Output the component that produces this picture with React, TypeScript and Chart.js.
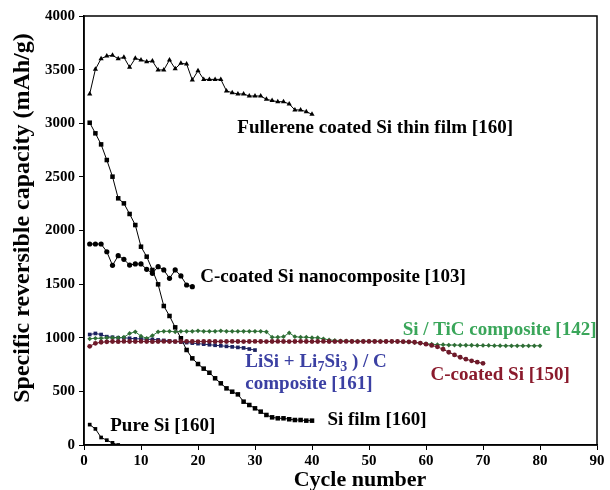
import React, { useEffect, useRef } from "react";
import { Chart, registerables } from "chart.js";

Chart.register(...registerables);

const FONT = "'Liberation Serif', 'Times New Roman', serif";

// Cycle number axis ticks / capacity axis ticks
const xTicks = [0, 10, 20, 30, 40, 50, 60, 70, 80, 90];
const yTicks = [0, 500, 1000, 1500, 2000, 2500, 3000, 3500, 4000];

// Series values (mAh/g), one value per cycle starting at cycle 1
const fullereneSi = [
  3273, 3503, 3602, 3627, 3633, 3602, 3615, 3522, 3605, 3590,
  3574, 3580, 3497, 3497, 3590, 3509, 3559, 3552, 3403, 3490,
  3409, 3409, 3409, 3409, 3301, 3285, 3273, 3273, 3254, 3254,
  3254, 3223, 3211, 3201, 3201, 3180, 3124, 3124, 3108, 3083,
];

const siFilm = [
  3005, 2906, 2803, 2657, 2502, 2300, 2253, 2154, 2051, 1849,
  1756, 1632, 1498, 1296, 1203, 1097, 995, 886, 808, 755,
  712, 674, 622, 575, 528, 497, 472, 404, 373, 342,
  311, 280, 258, 249, 249, 240, 233, 233, 227, 227,
];

const cCoatedNano = [
  1874, 1874, 1874, 1802, 1675, 1765, 1731, 1678, 1688, 1688,
  1638, 1601, 1663, 1632, 1554, 1632, 1576, 1492, 1476,
];

const pureSi = [190, 150, 70, 45, 20, 0];

const siTiC = [
  990, 995, 995, 1000, 1000, 1000, 1005, 1040, 1055, 1015,
  995, 1020, 1055, 1060, 1060, 1055, 1060, 1060, 1060, 1065,
  1060, 1060, 1060, 1065, 1060, 1060, 1060, 1060, 1060, 1060,
  1060, 1055, 1005, 1005, 1010, 1045, 1010, 1005, 1005, 1000,
  1000, 990, 980, 975, 970, 970, 968, 968, 968, 968,
  968, 968, 966, 965, 965, 962, 960, 955, 950, 945,
  940, 935, 935, 932, 932, 930, 930, 930, 928, 928,
  928, 926, 926, 925, 925, 925, 925, 925, 925, 925,
];

const cCoatedSi = [
  920, 948, 958, 962, 965, 963, 966, 965, 964, 966,
  965, 963, 965, 966, 965, 964, 965, 966, 965, 964,
  965, 966, 965, 964, 965, 966, 965, 964, 965, 966,
  965, 964, 965, 966, 965, 964, 965, 966, 965, 964,
  965, 966, 965, 964, 965, 966, 965, 964, 965, 966,
  965, 964, 965, 966, 965, 963, 962, 958, 950, 940,
  928, 915, 893, 865, 840, 818, 800, 785, 772, 762,
];

const liSiComposite = [
  1030, 1040, 1030, 1010, 1005, 1000, 1000, 995, 990, 990,
  985, 985, 980, 975, 970, 965, 960, 955, 950, 945,
  940, 935, 930, 925, 920, 915, 910, 905, 895, 885,
];

type Part = { t: string; sub?: boolean };
type Label = { parts: Part[]; cycle: number; cap: number; color: string };

const LABELS: Label[] = [
  { parts: [{ t: "Fullerene coated Si thin film [160]" }], cycle: 26.9, cap: 2956, color: "#000000" },
  { parts: [{ t: "C-coated Si nanocomposite [103]" }], cycle: 20.4, cap: 1566, color: "#000000" },
  { parts: [{ t: "Si / TiC composite [142]" }], cycle: 55.9, cap: 1072, color: "#3aa65a" },
  {
    parts: [{ t: "LiSi + Li" }, { t: "7", sub: true }, { t: "Si" }, { t: "3", sub: true }, { t: " ) / C" }],
    cycle: 28.3, cap: 774, color: "#3b40a3",
  },
  { parts: [{ t: "composite [161]" }], cycle: 28.3, cap: 569, color: "#3b40a3" },
  { parts: [{ t: "C-coated Si [150]" }], cycle: 60.8, cap: 653, color: "#8a1a2c" },
  { parts: [{ t: "Si film [160]" }], cycle: 42.7, cap: 233, color: "#000000" },
  { parts: [{ t: "Pure Si [160]" }], cycle: 4.6, cap: 177, color: "#000000" },
];

const toPoints = (vals: number[]) => vals.map((v, i) => ({ x: i + 1, y: v }));

const annotPlugin = {
  id: "annot",
  afterDatasetsDraw(chart: any) {
    const { ctx, chartArea, scales } = chart;
    ctx.save();
    ctx.strokeStyle = "#000";
    ctx.lineWidth = 1.5;
    ctx.strokeRect(chartArea.left, chartArea.top, chartArea.right - chartArea.left, chartArea.bottom - chartArea.top);

    ctx.textBaseline = "middle";
    ctx.textAlign = "left";
    for (const lab of LABELS) {
      let x = scales.x.getPixelForValue(lab.cycle);
      const y = scales.y.getPixelForValue(lab.cap);
      ctx.fillStyle = lab.color;
      for (const p of lab.parts) {
        ctx.font = `bold ${p.sub ? 14 : 19}px ${FONT}`;
        ctx.fillText(p.t, x, y + (p.sub ? 5 : 0));
        x += ctx.measureText(p.t).width;
      }
    }

    // axis titles
    ctx.fillStyle = "#000";
    ctx.textAlign = "center";
    ctx.font = `bold 22px ${FONT}`;
    ctx.fillText("Cycle number", 360, 480);
    ctx.translate(23, 218);
    ctx.rotate(-Math.PI / 2);
    ctx.font = `bold 24px ${FONT}`;
    ctx.fillText("Specific reversible capacity (mAh/g)", 0, 0);
    ctx.restore();
  },
};

export default function App() {
  const ref = useRef<HTMLCanvasElement | null>(null);
  useEffect(() => {
    if (!ref.current) return;
    const common = { borderWidth: 1, showLine: true, fill: false, tension: 0 };
    const chart = new Chart(ref.current, {
      type: "scatter",
      data: {
        datasets: [
          { ...common, label: "C-coated Si [150]", data: toPoints(cCoatedSi), borderColor: "#6e1a2a", backgroundColor: "#6e1a2a", pointStyle: "circle", pointRadius: 2.4, pointBorderWidth: 0 },
          { ...common, label: "Si / TiC composite [142]", data: toPoints(siTiC), borderColor: "#2f7d3d", backgroundColor: "#2f6d35", pointStyle: "rectRot", pointRadius: 2.4, pointBorderWidth: 0 },
          { ...common, label: "LiSi + Li7Si3 / C composite [161]", data: toPoints(liSiComposite), borderColor: "#1c2260", backgroundColor: "#1c2260", pointStyle: "rect", pointRadius: 2.6, pointBorderWidth: 0 },
          { ...common, label: "Fullerene coated Si thin film [160]", data: toPoints(fullereneSi), borderColor: "#000", backgroundColor: "#000", pointStyle: "triangle", pointRadius: 3, pointBorderWidth: 0 },
          { ...common, label: "Si film [160]", data: toPoints(siFilm), borderColor: "#000", backgroundColor: "#000", pointStyle: "rect", pointRadius: 3.2, pointBorderWidth: 0 },
          { ...common, label: "C-coated Si nanocomposite [103]", data: toPoints(cCoatedNano), borderColor: "#000", backgroundColor: "#000", pointStyle: "circle", pointRadius: 2.6, pointBorderWidth: 0 },
          { ...common, label: "Pure Si [160]", data: toPoints(pureSi), borderColor: "#000", backgroundColor: "#000", pointStyle: "rect", pointRadius: 2.6, pointBorderWidth: 0 },
        ],
      },
      options: {
        animation: false,
        responsive: false,
        layout: { padding: { top: 16, right: 13, left: 0, bottom: 0 } },
        plugins: { legend: { display: false }, tooltip: { enabled: false } },
        scales: {
          x: {
            type: "linear",
            min: 0,
            max: 90,
            afterFit: (s: any) => { s.height = 45; },
            afterBuildTicks: (s: any) => { s.ticks = xTicks.map((v) => ({ value: v })); },
            ticks: { color: "#000", font: { family: FONT, size: 15, weight: "bold" }, padding: 2, maxRotation: 0, callback: (v: any) => String(v) },
            grid: { display: true, drawOnChartArea: false, drawTicks: true, tickLength: 5, color: "#000" },
            border: { display: true, color: "#000", width: 1.5 },
          },
          y: {
            type: "linear",
            min: 0,
            max: 4000,
            afterFit: (s: any) => { s.width = 84; },
            afterBuildTicks: (s: any) => { s.ticks = yTicks.map((v) => ({ value: v })); },
            ticks: { color: "#000", font: { family: FONT, size: 15, weight: "bold" }, padding: 4, callback: (v: any) => String(v) },
            grid: { display: true, drawOnChartArea: false, drawTicks: true, tickLength: 5, color: "#000" },
            border: { display: true, color: "#000", width: 1.5 },
          },
        },
      },
      plugins: [annotPlugin],
    } as any);
    return () => chart.destroy();
  }, []);

  return (
    <div style={{ position: "fixed", left: 0, top: 0, width: 610, height: 490, background: "#fff" }}>
      <canvas ref={ref} width={610} height={490} style={{ display: "block" }} />
    </div>
  );
}
